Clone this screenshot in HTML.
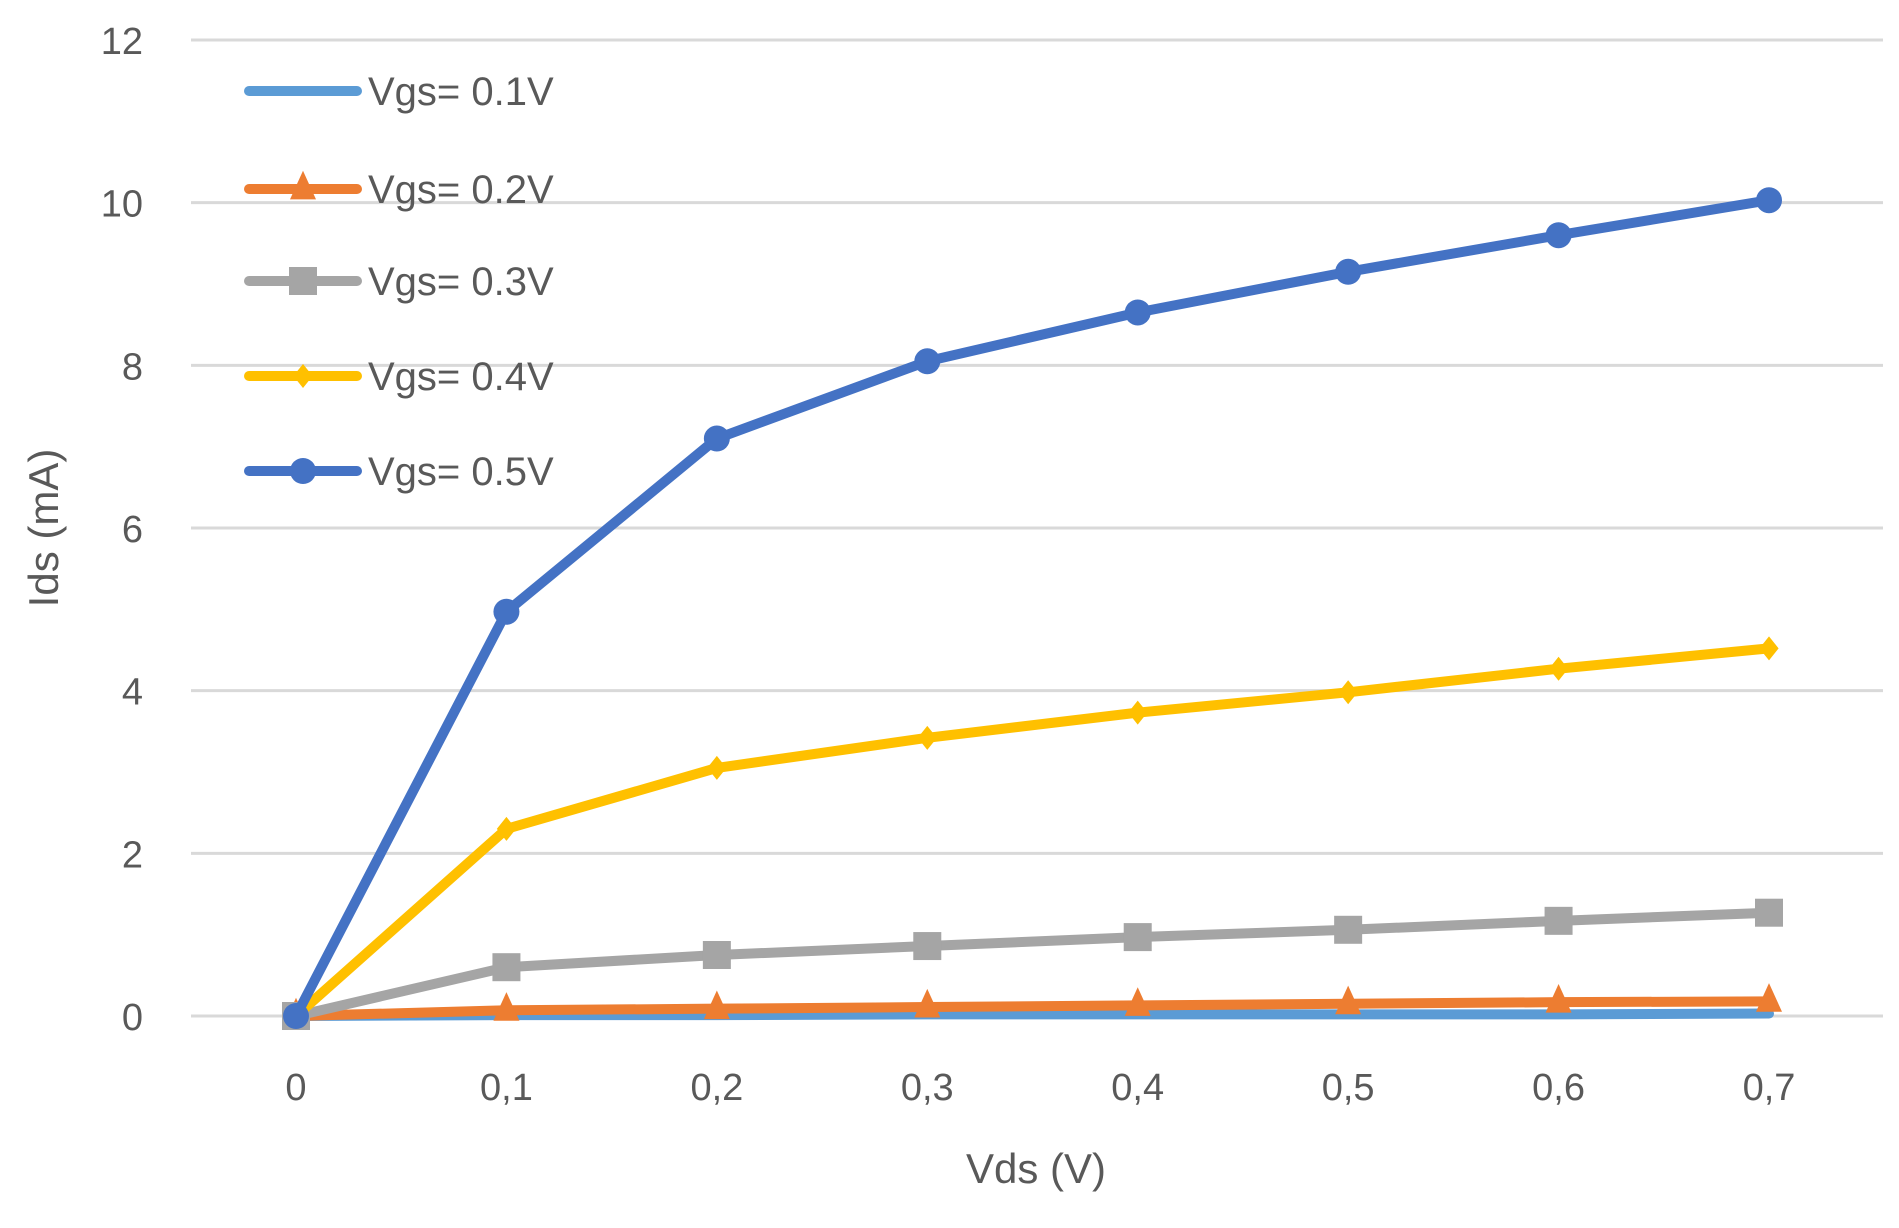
<!DOCTYPE html>
<html><head><meta charset="utf-8"><style>
html,body{margin:0;padding:0;background:#fff;}
svg{display:block;font-family:"Liberation Sans",sans-serif;}
</style></head><body>
<svg id="chart" width="1899" height="1228" viewBox="0 0 1899 1228" xmlns="http://www.w3.org/2000/svg">
<g id="grid"></g>
<g id="yticks"></g>
<g id="xticks"></g>
<g id="series"></g>
<g id="legend"></g>
<text x="0" y="0" transform="translate(58,528) rotate(-90)" text-anchor="middle" font-size="42" fill="#595959">Ids (mA)</text>
<text x="1036" y="1183" text-anchor="middle" font-size="42" fill="#595959">Vds (V)</text>
</svg>
<script>
const categories = ["0","0,1","0,2","0,3","0,4","0,5","0,6","0,7"];
const yTicks = [0,2,4,6,8,10,12];
const seriesNames = ["Vgs= 0.1V","Vgs= 0.2V","Vgs= 0.3V","Vgs= 0.4V","Vgs= 0.5V"];
const vgs01 = [0,0.01,0.01,0.02,0.02,0.02,0.02,0.03];
const vgs02 = [0,0.07,0.09,0.11,0.13,0.15,0.17,0.18];
const vgs03 = [0,0.6,0.75,0.86,0.97,1.06,1.17,1.27];
const vgs04 = [0,2.3,3.05,3.42,3.73,3.98,4.27,4.52];
const vgs05 = [0,4.97,7.1,8.05,8.65,9.15,9.6,10.03];

const NS="http://www.w3.org/2000/svg";
const X0=296, XSTEP=(1769-296)/7, Y0=1016, YTOP=40, YMAX=12;
const xs=i=>X0+i*XSTEP;
const ys=v=>Y0-(v/YMAX)*(Y0-YTOP);
function mk(tag,attrs,parent){const e=document.createElementNS(NS,tag);for(const k in attrs)e.setAttribute(k,attrs[k]);parent.appendChild(e);return e;}
const grid=document.getElementById('grid'),yt=document.getElementById('yticks'),xt=document.getElementById('xticks'),sg=document.getElementById('series'),lg=document.getElementById('legend');
yTicks.forEach(v=>{
  const l=mk('line',{x1:191,x2:1883,y1:ys(v),y2:ys(v),stroke:'#d9d9d9','stroke-width':3},grid);
  
  
  const t=mk('text',{x:143,y:ys(v)+14,'text-anchor':'end','font-size':38,fill:'#595959'},yt);
  t.textContent=v;
  
  
});
categories.forEach((c,i)=>{
  const t=mk('text',{x:xs(i),y:1100,'text-anchor':'middle','font-size':38,fill:'#595959'},xt);
  t.textContent=c;
  
  
});
const colors=['#5B9BD5','#ED7D31','#A5A5A5','#FFC000','#4472C4'];
const markers=['none','triangle','square','diamond','circle'];
const data=[vgs01,vgs02,vgs03,vgs04,vgs05];
function marker(type,x,y,color,parent,scale){
  scale=scale||1;let e=null;
  if(type==='circle') e=mk('circle',{cx:x,cy:y,r:13*scale,fill:color},parent);
  else if(type==='square') e=mk('rect',{x:x-14*scale,y:y-14*scale,width:28*scale,height:28*scale,fill:color},parent);
  else if(type==='triangle'){const s=13*scale;e=mk('polygon',{points:`${x},${y-s*1.4} ${x+s},${y+s*0.8} ${x-s},${y+s*0.8}`,fill:color},parent);}
  else if(type==='diamond'){const s=12*scale;e=mk('polygon',{points:`${x},${y-s} ${x+s*0.8},${y} ${x},${y+s} ${x-s*0.8},${y}`,fill:color},parent);}
  return e;
}
data.forEach((d,si)=>{
  const g=mk('g',{},sg);
  
  
  const pl=mk('polyline',{points:d.map((v,i)=>xs(i)+','+ys(v)).join(' '),fill:'none',stroke:colors[si],'stroke-width':10,'stroke-linejoin':'round','stroke-linecap':'round'},g);
  
  
  d.forEach((v,i)=>{
    const m=marker(markers[si],xs(i),ys(v),colors[si],g);
    if(m){
      
      
    }
  });
  const ly=[91,189,281,376,471][si];
  const lgEntry=mk('g',{},lg);
  
  
  mk('line',{x1:249,x2:357,y1:ly,y2:ly,stroke:colors[si],'stroke-width':10,'stroke-linecap':'round'},lgEntry);
  marker(markers[si],303,ly,colors[si],lgEntry);
  const t=mk('text',{x:368,y:ly+14,'font-size':40,fill:'#595959'},lgEntry);
  t.textContent=seriesNames[si];
});
</script>
</body></html>
